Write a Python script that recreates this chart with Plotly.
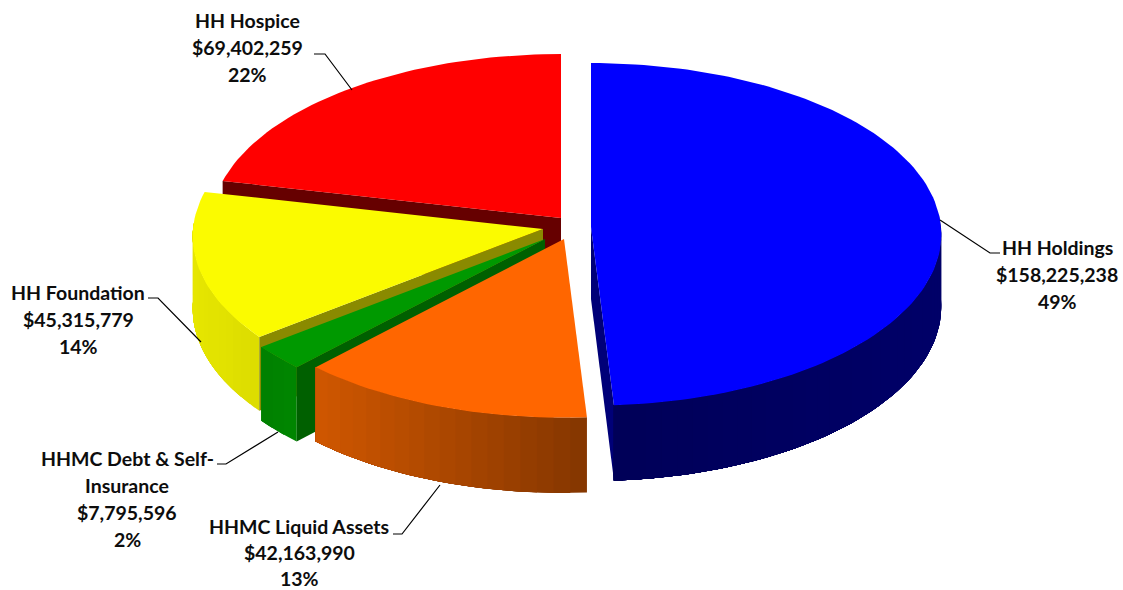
import math
import plotly.graph_objects as go

# ---- data ----
categories = ["HH Holdings", "HHMC Liquid Assets", "HHMC Debt & Self-Insurance", "HH Foundation", "HH Hospice"]
amounts = [158225238, 42163990, 7795596, 45315779, 69402259]
percent_labels = ["49%", "13%", "2%", "14%", "22%"]

# ---- styling / layout ----
W, H = 1123, 590
CX, CY = 565, 229          # pie centre on the page
RX, RY = 350, 171          # pie radii
PERSP = 0.043              # foreshortening of the far side
DEPTH = 72                 # thickness of the pie
EXPLODE = [(26, -2), (-1, 10), (-20, 10), (-22, 0), (-4, -11)]   # slice shifts
TOP = ["#0000ff", "#ff6600", "#009900", "#fbfb00", "#ff0000"]
CUT = ["#000078", None, "#006000", "#8a8a00", "#660000"]
SIDE_L = [(0, 0, 0x58), (0xd0, 0x57, 0), (0, 0x80, 0), (0xe6, 0xe6, 0), None]
SIDE_R = [(0, 0, 0x68), (0x84, 0x36, 0), (0, 0x86, 0), (0xdc, 0xdc, 0), None]

FONT = "Lato, Carlito, Calibri, sans-serif"
FONT_SIZE = 19.5
LINE_GAP = 27
LABELS = {  # centre x, first-line y, line gap, wrapped lines of the name
    0: (1057, 247, LINE_GAP, ["HH Holdings"]),
    1: (299, 526, 26, ["HHMC Liquid Assets"]),
    2: (127, 458, LINE_GAP, ["HHMC Debt & Self-", "Insurance"]),
    3: (78, 292, LINE_GAP, ["HH Foundation"]),
    4: (247, 20, LINE_GAP, ["HH Hospice"]),
}
LEADERS = {
    0: ([940, 990, 1000], [220, 253, 253]),
    1: ([393, 402, 440], [534, 534, 485]),
    2: ([217, 226, 278], [464, 464, 432]),
    3: ([148, 158, 201], [298, 298, 342]),
    4: ([314, 325, 352], [54, 54, 90]),
}

total = sum(amounts)
edges = [0.0]
for a in amounts:
    edges.append(edges[-1] + a / total * 2 * math.pi)


def pt(i, theta, r=1.0, z=0.0):
    """Project a point of slice i (angle clockwise from 12 o'clock)."""
    ax, ay = CX + EXPLODE[i][0], CY + EXPLODE[i][1]
    c = r * math.cos(theta)
    s = 1 / (1 + PERSP * c)
    return ax + RX * r * math.sin(theta) * s, ay - RY * c * s + z * s


def poly(fig, pts, color):
    fig.add_trace(go.Scatter(
        x=[p[0] for p in pts] + [pts[0][0]],
        y=[p[1] for p in pts] + [pts[0][1]],
        mode="lines", fill="toself", fillcolor=color,
        line=dict(color=color, width=0),
        hoverinfo="skip", showlegend=False))


def arc(i, a, b, z=0.0, n=None):
    n = n or max(2, int(abs(b - a) / math.radians(1.5)))
    return [pt(i, a + (b - a) * k / n, 1.0, z) for k in range(n + 1)]


def mix(c1, c2, t):
    return "rgb(%d,%d,%d)" % tuple(round(c1[j] + (c2[j] - c1[j]) * t) for j in range(3))


def cut_face(fig, i, theta, color):
    poly(fig, [pt(i, 0, 0), pt(i, theta), pt(i, theta, 1, DEPTH), pt(i, 0, 0, DEPTH)], color)


def outer_side(fig, i, a, b):
    """Outer rim of a slice between a and b, shaded left to right by strips.
    Each strip runs under the whole remaining rim, so no seams can show."""
    n = max(2, int(abs(b - a) / math.radians(2.5)))
    xs = [pt(i, a + (b - a) * k / n)[0] for k in range(n + 1)]
    lo, hi = min(xs), max(xs)
    for k in range(n):
        t0, t1 = a + (b - a) * k / n, a + (b - a) * (k + 1) / n
        xm = (pt(i, t0)[0] + pt(i, t1)[0]) / 2
        col = mix(SIDE_L[i], SIDE_R[i], (xm - lo) / max(hi - lo, 1))
        upper = arc(i, t0, b)
        lower = arc(i, t0, b, DEPTH)
        poly(fig, upper + lower[::-1], col)


def top_face(fig, i):
    poly(fig, [pt(i, 0, 0)] + arc(i, edges[i], edges[i + 1]), TOP[i])


fig = go.Figure()

# painter's order: far slices first
# red
cut_face(fig, 4, edges[4], CUT[4])
top_face(fig, 4)
# yellow
outer_side(fig, 3, edges[3], math.radians(272))
cut_face(fig, 3, edges[3], CUT[3])
top_face(fig, 3)
# green
outer_side(fig, 2, edges[2], edges[3])
cut_face(fig, 2, edges[2], CUT[2])
top_face(fig, 2)
# orange
outer_side(fig, 1, edges[1], edges[2])
top_face(fig, 1)
# blue
cut_face(fig, 0, edges[1], CUT[0])
outer_side(fig, 0, math.radians(86), edges[1])
top_face(fig, 0)

# leader lines
for i, (lx, ly) in LEADERS.items():
    fig.add_trace(go.Scatter(x=lx, y=ly, mode="lines", line=dict(color="#000000", width=1.2),
                             hoverinfo="skip", showlegend=False))

# labels
annotations = []
for i, (x, y, gap, name_lines) in LABELS.items():
    lines = name_lines + ["${:,}".format(amounts[i]), percent_labels[i]]
    for k, txt in enumerate(lines):
        annotations.append(dict(x=x, y=y + k * gap, xref="x", yref="y", text="<b>%s</b>" % txt,
                                showarrow=False, xanchor="center", yanchor="middle",
                                font=dict(family=FONT, size=FONT_SIZE, color="#0d0d0d")))

fig.update_layout(
    width=W, height=H, autosize=False, margin=dict(l=0, r=0, t=0, b=0),
    paper_bgcolor="white", plot_bgcolor="white", showlegend=False,
    xaxis=dict(range=[0, W], visible=False, fixedrange=True),
    yaxis=dict(range=[H, 0], visible=False, fixedrange=True),
    annotations=annotations)

fig.write_html("out.html", config={"displayModeBar": False},
               post_script="document.body.style.margin='0';document.body.style.overflow='hidden';")
